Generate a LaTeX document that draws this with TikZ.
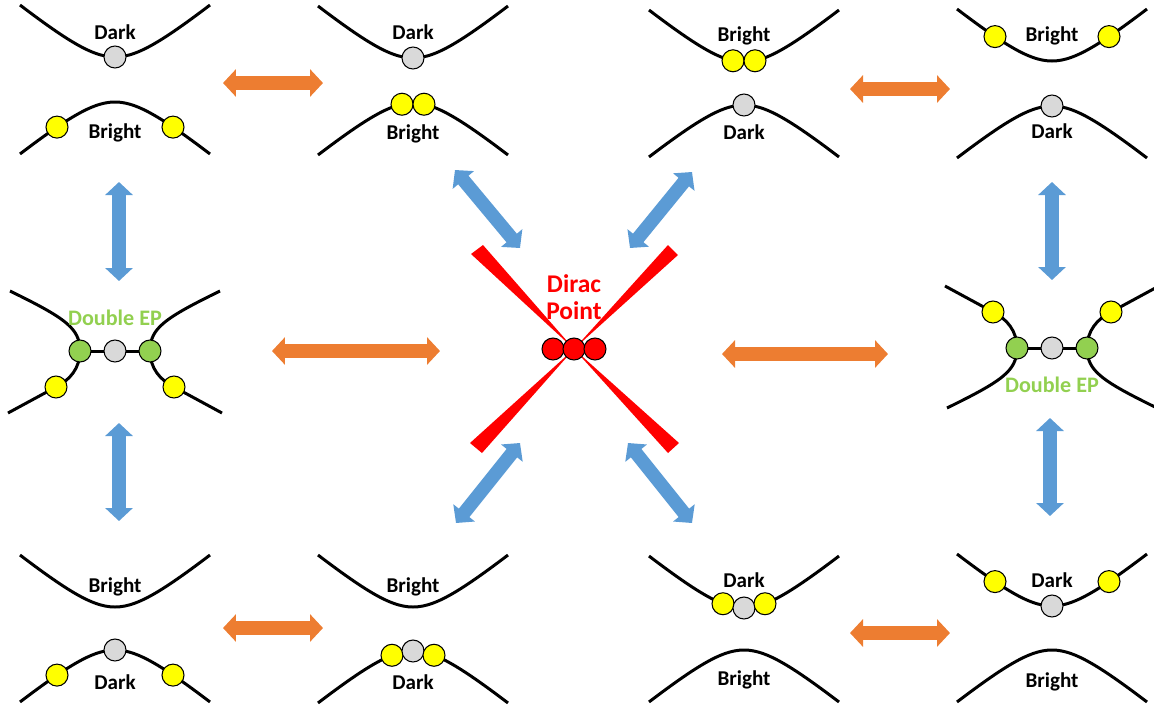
\documentclass[tikz,border=0pt]{standalone}
\usepackage{fontspec}
\setmainfont{Carlito}
\usetikzlibrary{arrows.meta}
\begin{document}
\begin{tikzpicture}[x=0.02cm,y=-0.02cm,
  band/.style={line width=1.7pt},
  dot/.style={circle,draw,line width=0.6pt,inner sep=0pt,minimum size=0.44cm},
  lbl/.style={font=\fontsize{12}{14}\selectfont\bfseries},
  oarr/.style={color=orng,line width=0.28cm,>={Triangle[length=0.26cm,width=0.54cm]},<->},
  barr/.style={color=blu,line width=0.27cm,>={Triangle[length=0.26cm,width=0.54cm]},<->},
  declare function={vee(\t)=0.824*(sqrt(1600+(\t)*(\t))-40);}]
\definecolor{orng}{HTML}{ED7D31}
\definecolor{blu}{HTML}{5B9BD5}
\definecolor{grn}{HTML}{92D050}
\definecolor{yel}{HTML}{FFFF00}
\definecolor{gry}{HTML}{D9D9D9}
\useasboundingbox (0,0) rectangle (1154,711);
% bands: valley on top, hill below
\foreach \cx/\yv/\yh/\tl/\ty/\bl/\by [count=\i] in {115/57/102/Dark/32/Bright/133,
  413/58/103/Dark/32/Bright/134, 744/62/105/Bright/36/Dark/132,
  1052/61/106/Bright/36/Dark/131, 115/607/650/Bright/587/Dark/682,
  413/607/651/Bright/587/Dark/682, 744/608/650/Dark/580/Bright/680,
  1052/606/650/Dark/580/Bright/682}
{ \draw[band] plot[domain=-95:95,samples=41] ({\cx+\x},{\yv-vee(\x)});
  \draw[band] plot[domain=-95:95,samples=41] ({\cx+\x},{\yh+vee(\x)});
  \node[lbl] (top\i) at (\cx,\ty) {\tl};
  \node[lbl] (bot\i) at (\cx,\by) {\bl};}
% states sitting on the bands
\foreach \cx/\cy/\sg/\dx/\col [count=\i] in {115/102/1/-58/yel, 115/102/1/58/yel,
  115/57/-1/0/gry, 413/58/-1/0/gry, 413/103/1/-11/yel, 413/103/1/11/yel,
  744/62/-1/-11/yel, 744/62/-1/11/yel, 744/105/1/0/gry,
  1052/61/-1/-57/yel, 1052/61/-1/57/yel, 1052/106/1/0/gry,
  115/650/1/-58/yel, 115/650/1/58/yel, 115/650/1/0/gry,
  413/651/1/-21/yel, 413/651/1/0/gry, 413/651/1/21/yel,
  744/608/-1/-21/yel, 744/608/-1/0/gry, 744/608/-1/21/yel,
  1052/606/-1/-57/yel, 1052/606/-1/57/yel, 1052/606/-1/0/gry}
{ \node[dot,fill=\col] (st\i) at ({\cx+\dx},{\cy+\sg*vee(\dx)}) {};}
% double EP panels
\foreach \cx/\cy/\s/\ty [count=\i] in {115/351/1/318, 1052/348/-1/385}
{ \begin{scope}[shift={(\cx,\cy)},yscale=\s]
    \draw[band] (-105,-60) .. controls (-50,-33) and (-35,-23) .. (-35,0)
      .. controls (-35,17) and (-45,29) .. (-59,36) -- (-107,62);
    \draw[band] (105,-60) .. controls (50,-33) and (35,-23) .. (35,0)
      .. controls (35,17) and (45,29) .. (59,36) -- (107,62);
    \draw[band] (-35,0) -- (35,0);
    \node[dot,fill=yel] (ep\i-y1) at (-59,36) {};
    \node[dot,fill=yel] (ep\i-y2) at (59,36) {};
    \node[dot,fill=grn] (ep\i-g1) at (-35,0) {};
    \node[dot,fill=grn] (ep\i-g2) at (35,0) {};
    \node[dot,fill=gry] (ep\i-c) at (0,0) {};
  \end{scope}
  \node[font=\fontsize{12.6}{14}\selectfont\bfseries,text=grn] (eplbl\i) at (\cx,\ty) {Double EP};}
% Dirac point
\foreach \ax/\ay/\bx/\by in {471/254/483/245, 668/245/678/255, 470/443/482/453, 668/453/679/443}
{ \fill[red] (574,349) -- (\ax,\ay) -- (\bx,\by) -- cycle;}
\foreach \px [count=\i] in {553,574,595}
{ \node[dot,fill=red] (dp\i) at (\px,349) {};}
\node[font=\fontsize{14.5}{15.5}\selectfont\bfseries,text=red,align=center] (dirac) at (574,297) {Dirac\\Point};
% arrows
\foreach \ax/\ay/\bx/\by [count=\i] in {223/83/323/83, 850/89/950/89, 272/351/440/351,
  722/354/888/354, 223/628/323/628, 850/633/950/633}
{ \coordinate (oa\i) at (\ax,\ay); \coordinate (ob\i) at (\bx,\by);
  \draw[oarr] (oa\i) -- (ob\i);}
\foreach \ax/\ay/\bx/\by [count=\i] in {119/182/119/281, 119/423/119/521, 1052/182/1052/280,
  1050/418/1050/516, 455/170/520/248, 692/172/630/248, 520/443/456/523, 628/443/692/523}
{ \coordinate (ba\i) at (\ax,\ay); \coordinate (bb\i) at (\bx,\by);
  \draw[barr] (ba\i) -- (bb\i);}
\end{tikzpicture}
\end{document}
